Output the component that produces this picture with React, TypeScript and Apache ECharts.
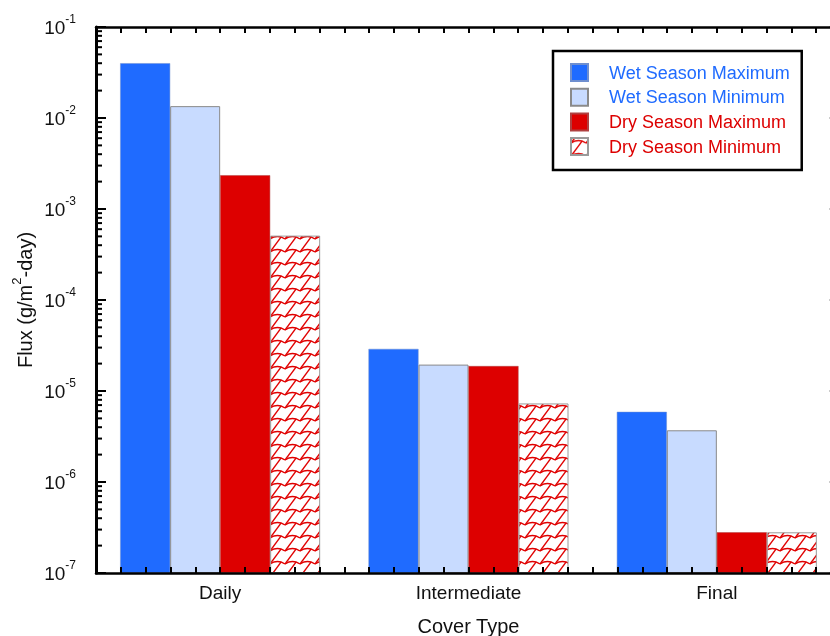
import React, { useEffect, useRef } from 'react';
import * as echarts from 'echarts';

const categories = ['Daily', 'Intermediate', 'Final'];
const seriesNames = ['Wet Season Maximum', 'Wet Season Minimum', 'Dry Season Maximum', 'Dry Season Minimum'];
const wetMax = [4.0e-2, 2.9e-5, 5.9e-6];
const wetMin = [1.35e-2, 1.95e-5, 3.7e-6];
const dryMax = [2.35e-3, 1.88e-5, 2.8e-7];
const dryMin = [5.1e-4, 7.3e-6, 2.8e-7];
const yMin = 1e-7;
const yMax = 1e-1;
const decadeExponents = [-7, -6, -5, -4, -3, -2, -1];
const minorMultipliers = [2, 3, 4, 5, 6, 7, 8, 9];
// x tick slots: ten per category band (tick axis categories)
const xTickSlots = ['0', '1', '2', '3', '4', '5', '6', '7', '8', '9', '10', '11', '12', '13', '14', '15', '16', '17', '18', '19', '20', '21', '22', '23', '24', '25', '26', '27', '28', '29', '30'];

const BLUE = '#1f6bff';
const LIGHT_BLUE = '#c8dbff';
const RED = '#dd0000';
const FONT = 'Liberation Sans, Arial, Helvetica, sans-serif';

function makeHatch(): HTMLCanvasElement {
  const W = 15;
  const H = 13;
  const c = document.createElement('canvas');
  c.width = W;
  c.height = H;
  const ctx = c.getContext('2d')!;
  ctx.fillStyle = '#ffffff';
  ctx.fillRect(0, 0, W, H);
  ctx.strokeStyle = '#e00000';
  ctx.lineWidth = 1.4;
  for (const dx of [-W, 0, W]) {
    for (const dy of [-H, 0, H]) {
      ctx.beginPath();
      ctx.moveTo(dx + 0, dy + 5);
      ctx.quadraticCurveTo(dx + 7.5, dy + 0, dx + 15, dy + 5);
      ctx.stroke();
      ctx.beginPath();
      ctx.moveTo(dx + 11, dy + 3.2);
      ctx.lineTo(dx + 0, dy + 18);
      ctx.stroke();
    }
  }
  return c;
}

export default function App() {
  const ref = useRef<HTMLDivElement>(null);
  useEffect(() => {
    if (!ref.current) return;
    const chart = echarts.init(ref.current, null, { renderer: 'svg' });
    const hatch = { image: makeHatch(), repeat: 'repeat' };
    const yTicks: number[][] = [];
    decadeExponents.forEach((e) => {
      yTicks.push([0, Math.pow(10, e), 1]);
      if (e < -1) {
        minorMultipliers.forEach((m) => {
          yTicks.push([0, m * Math.pow(10, e), 0]);
        });
      }
    });
    const tickAxis = (position: 'top' | 'bottom', showLine: boolean) => ({
      type: 'category',
      position,
      data: xTickSlots,
      boundaryGap: false,
      z: 10,
      axisLine: { show: showLine, lineStyle: { color: '#000', width: 2.5 } },
      axisTick: { show: true, inside: true, interval: 0, length: 6, lineStyle: { color: '#000', width: 2 } },
      axisLabel: { show: false },
      splitLine: { show: false },
    });
    const barCommon = {
      type: 'bar',
      barWidth: 50,
      barGap: '0%',
      xAxisIndex: 0,
      yAxisIndex: 0,
    };
    chart.setOption({
      animation: false,
      textStyle: { fontFamily: FONT },
      grid: { left: 96, top: 27, width: 745, height: 546, containLabel: false, outerBoundsMode: 'none' },
      legend: {
        orient: 'vertical',
        left: 553,
        top: 51,
        itemWidth: 17,
        itemHeight: 17,
        itemGap: 5.7,
        padding: [12, 12, 14, 17],
        borderColor: '#000',
        borderWidth: 2.5,
        backgroundColor: '#fff',
        icon: 'rect',
        textStyle: { fontSize: 18, fontFamily: FONT, padding: [0, 0, 0, 16], lineHeight: 18 },
        data: seriesNames.map((n, i) => ({ name: n, textStyle: { color: i < 2 ? BLUE : RED } })),
      },
      xAxis: [
        {
          type: 'category',
          data: categories,
          position: 'bottom',
          z: 10,
          axisLine: { show: true, lineStyle: { color: '#000', width: 2.5 } },
          axisTick: { show: false },
          axisLabel: { fontSize: 19, color: '#111', margin: 10, fontFamily: FONT },
          name: 'Cover Type',
          nameLocation: 'middle',
          nameGap: 43,
          nameMoveOverlap: false,
          nameTextStyle: { fontSize: 20, color: '#111', fontFamily: FONT },
          splitLine: { show: false },
        },
        tickAxis('bottom', false),
        tickAxis('top', true),
      ],
      yAxis: [
        {
          type: 'log',
          logBase: 10,
          min: yMin,
          max: yMax,
          interval: 1,
          startValue: yMin,
          position: 'left',
          z: 10,
          axisLine: { show: true, lineStyle: { color: '#000', width: 3 } },
          axisTick: { show: false },
          splitLine: { show: false },
          axisLabel: {
            margin: 20,
            color: '#111',
            formatter: (v: number) => `{b|10}{s|${Math.round(Math.log10(v))}}`,
            rich: {
              b: { fontSize: 19, lineHeight: 28, verticalAlign: 'middle', fontFamily: FONT, color: '#111' },
              s: { fontSize: 12, verticalAlign: 'top', fontFamily: FONT, color: '#111' },
            },
          },
          name: 'Flux (g/m{s|2}-day)',
          nameLocation: 'middle',
          nameRotate: 90,
          nameGap: 56,
          nameMoveOverlap: false,
          nameTextStyle: {
            fontSize: 20,
            lineHeight: 30,
            color: '#111',
            fontFamily: FONT,
            rich: { s: { fontSize: 13, verticalAlign: 'top', fontFamily: FONT, color: '#111' } },
          },
        },
      ],
      series: [
        { ...barCommon, name: seriesNames[0], data: wetMax, itemStyle: { color: BLUE, borderColor: '#6f8fcf', borderWidth: 0.5 } },
        { ...barCommon, name: seriesNames[1], data: wetMin, itemStyle: { color: LIGHT_BLUE, borderColor: '#8a8a8a', borderWidth: 1 } },
        { ...barCommon, name: seriesNames[2], data: dryMax, itemStyle: { color: RED, borderColor: '#b04040', borderWidth: 0.5 } },
        { ...barCommon, name: seriesNames[3], data: dryMin, itemStyle: { color: hatch, borderColor: '#9a9a9a', borderWidth: 1 } },
        {
          type: 'custom',
          name: 'yTicks',
          xAxisIndex: 0,
          yAxisIndex: 0,
          silent: true,
          clip: false,
          z: 5,
          data: yTicks,
          encode: { x: 0, y: 1 },
          renderItem: (params: any, api: any) => {
            const pt = api.coord([0, api.value(1)]);
            const cs = params.coordSys;
            const len = api.value(2) ? 10 : 6;
            return {
              type: 'group',
              children: [
                {
                  type: 'line',
                  shape: { x1: cs.x, y1: pt[1], x2: cs.x + len, y2: pt[1] },
                  style: { stroke: '#000', lineWidth: 2 },
                },
                {
                  type: 'line',
                  shape: { x1: cs.x + cs.width - 12, y1: pt[1], x2: cs.x + cs.width, y2: pt[1] },
                  style: { stroke: api.value(2) ? '#999' : 'rgba(0,0,0,0)', lineWidth: 1 },
                },
              ],
            };
          },
        },
      ],
    });
    return () => chart.dispose();
  }, []);
  return <div ref={ref} style={{ position: 'fixed', left: 0, top: 0, width: 830, height: 636 }} />;
}
